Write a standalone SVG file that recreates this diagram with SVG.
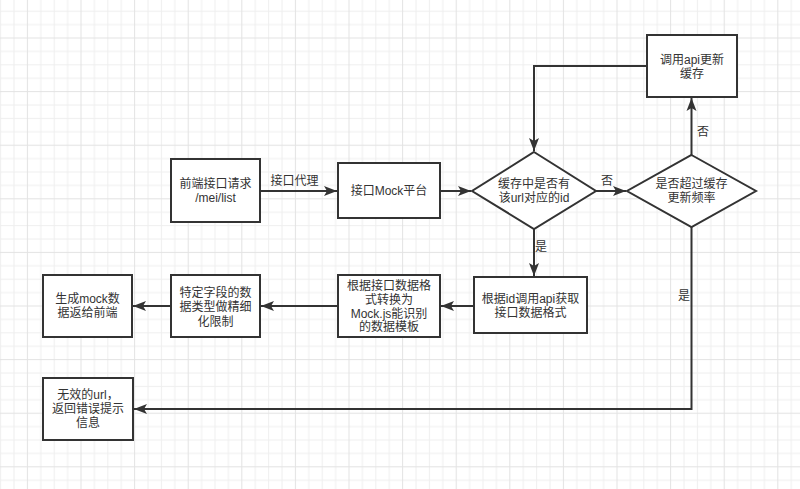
<svg xmlns="http://www.w3.org/2000/svg" width="800" height="489" viewBox="0 0 800 489">
<defs>
<pattern id="grid" patternUnits="userSpaceOnUse" x="26.9" y="37.5" width="53.6" height="53.6">
<rect x="0" y="0" width="53.6" height="53.6" fill="#ffffff"/>
<g fill="#efefef">
<rect x="13.4" y="0" width="1" height="53.6"/>
<rect x="26.8" y="0" width="1" height="53.6"/>
<rect x="40.2" y="0" width="1" height="53.6"/>
<rect x="0" y="13.4" width="53.6" height="1"/>
<rect x="0" y="26.8" width="53.6" height="1"/>
<rect x="0" y="40.2" width="53.6" height="1"/>
</g>
<rect x="0" y="0" width="1" height="53.6" fill="#e3e3e3"/>
<rect x="0" y="0" width="53.6" height="1" fill="#e3e3e3"/>
</pattern>
<marker id="arr" markerUnits="userSpaceOnUse" markerWidth="14" markerHeight="12" viewBox="0 0 14 12" refX="13" refY="6" orient="auto">
<path d="M0,1 L13,6 L0,11 L3,6 Z" fill="#333"/>
</marker>
</defs>
<style>
.box{fill:#fff;stroke:#333;stroke-width:2}
.edge{fill:none;stroke:#333;stroke-width:2;marker-end:url(#arr)}
text{font-family:"Liberation Sans","Noto Sans CJK SC",sans-serif;font-size:12px;fill:#333;text-anchor:middle}
</style>
<rect width="800" height="489" fill="url(#grid)"/>

<g id="connectors">
<path class="edge" d="M260,191 L337,191"/>
<text x="294.5" y="185">接口代理</text>
<path class="edge" d="M440,191 L471,191"/>
<path class="edge" d="M596,191 L626,191"/>
<text x="607" y="185">否</text>
<path class="edge" d="M691.5,155 L691.5,98"/>
<text x="703" y="136">否</text>
<path class="edge" d="M647,66 L534,66 L534,151"/>
<path class="edge" d="M534,229 L534,276"/>
<text x="541" y="251">是</text>
<path class="edge" d="M474,306 L441,306"/>
<path class="edge" d="M338,306 L261,306"/>
<path class="edge" d="M171,306 L133,306"/>
<path class="edge" d="M691.5,227 L691.5,409 L134,409"/>
<text x="684" y="300">是</text>
</g>

<g id="node-frontend">
<rect class="box" x="171" y="159" width="89" height="63"/>
<text x="215.5" y="188">前端接口请求</text>
<text x="215.5" y="202">/mei/list</text>
</g>

<g id="node-mock">
<rect class="box" x="338" y="163" width="102" height="55"/>
<text x="389" y="195">接口Mock平台</text>
</g>

<g id="node-cache-check">
<polygon class="box" points="534,152 596,191 534,229 472,191"/>
<text x="534" y="188">缓存中是否有</text>
<text x="534" y="202">该url对应的id</text>
</g>

<g id="node-freq-check">
<polygon class="box" points="691.5,155 756,191 691.5,227 627,191"/>
<text x="691.5" y="188">是否超过缓存</text>
<text x="691.5" y="202">更新频率</text>
</g>

<g id="node-update-cache">
<rect class="box" x="647" y="35" width="90" height="62"/>
<text x="692" y="63.5">调用api更新</text>
<text x="692" y="77.5">缓存</text>
</g>

<g id="node-get-format">
<rect class="box" x="474" y="277" width="113" height="56"/>
<text x="530.5" y="303">根据id调用api获取</text>
<text x="530.5" y="317">接口数据格式</text>
</g>

<g id="node-convert">
<rect class="box" x="338" y="275" width="102" height="62"/>
<text x="389" y="289.5">根据接口数据格</text>
<text x="389" y="303.5">式转换为</text>
<text x="389" y="317.5">Mock.js能识别</text>
<text x="389" y="331">的数据模板</text>
</g>

<g id="node-refine">
<rect class="box" x="171" y="275" width="89" height="62"/>
<text x="215.5" y="296.5">特定字段的数</text>
<text x="215.5" y="311">据类型做精细</text>
<text x="215.5" y="325.5">化限制</text>
</g>

<g id="node-return">
<rect class="box" x="43" y="275" width="89" height="62"/>
<text x="87.5" y="302.5">生成mock数</text>
<text x="87.5" y="317">据返给前端</text>
</g>

<g id="node-invalid">
<rect class="box" x="43" y="378" width="90" height="62"/>
<text x="88" y="399">无效的url，</text>
<text x="88" y="413">返回错误提示</text>
<text x="88" y="427">信息</text>
</g>
</svg>
